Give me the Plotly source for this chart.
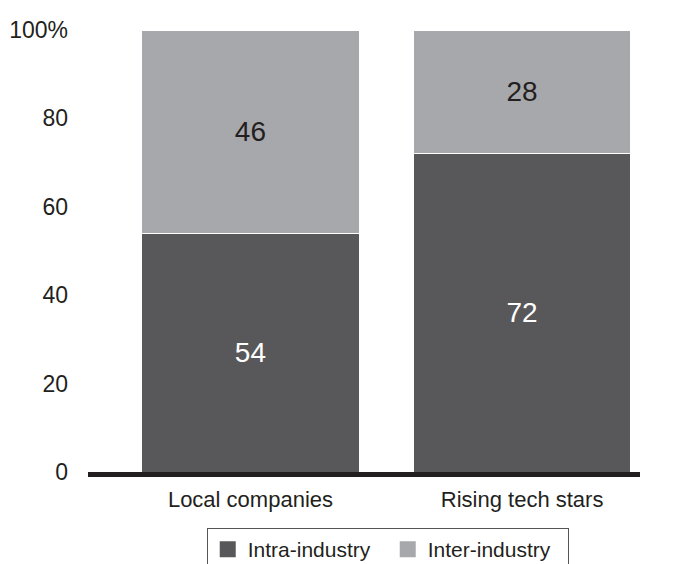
import plotly.graph_objects as go

categories = ["Local companies", "Rising tech stars"]
intra_industry = [54, 72]
inter_industry = [46, 28]
y_tick_values = [0, 20, 40, 60, 80, 100]
y_tick_labels = ["0", "20", "40", "60", "80", "100%"]

dark = "#58585a"
light = "#a7a8ab"
ink = "#231f20"
font_family = "Liberation Sans, Arial, sans-serif"

fig = go.Figure()

fig.add_trace(go.Bar(
    x=categories, y=intra_industry, name="Intra-industry",
    marker=dict(color=dark, line=dict(color="white", width=1)),
    text=intra_industry, textposition="inside", insidetextanchor="middle",
    textangle=0, constraintext="none",
    textfont=dict(size=28, color="white", family=font_family),
    showlegend=False,
))
fig.add_trace(go.Bar(
    x=categories, y=inter_industry, name="Inter-industry",
    marker=dict(color=light, line=dict(color="white", width=1)),
    text=inter_industry, textposition="inside", insidetextanchor="middle",
    textangle=0, constraintext="none",
    textfont=dict(size=28, color=ink, family=font_family),
    showlegend=False,
))

# Legend entries with larger square swatches
for name, color in [("Intra-industry", dark), ("Inter-industry", light)]:
    fig.add_trace(go.Scatter(
        x=[None], y=[None], mode="markers", name=name,
        marker=dict(symbol="square", size=19, color=color),
    ))

fig.update_layout(
    barmode="stack",
    bargap=0.2,
    width=680, height=564,
    margin=dict(l=88, r=40, t=30, b=92),
    plot_bgcolor="white", paper_bgcolor="white",
    font=dict(family=font_family, color=ink),
    legend=dict(
        orientation="h", traceorder="normal",
        xref="paper", x=0.543, xanchor="center",
        yref="container", y=(564 - 528) / 564, yanchor="top",
        bordercolor="#555555", borderwidth=1,
        font=dict(size=21, color=ink),
        itemwidth=30, tracegroupgap=0,
        entrywidth=135, entrywidthmode="pixels",
    ),
)

fig.update_xaxes(
    range=[-0.598, 1.434],
    showline=True, linecolor=ink, linewidth=5,
    ticks="", showgrid=False, automargin=False,
    tickfont=dict(size=22, color=ink),
    ticklabelstandoff=4,
)
fig.update_yaxes(
    range=[0, 100],
    tickvals=y_tick_values, ticktext=y_tick_labels,
    showgrid=False, zeroline=False, showline=False, automargin=False,
    tickfont=dict(size=23, color=ink),
    ticklabelstandoff=19,
)

fig.write_html("out.html")
